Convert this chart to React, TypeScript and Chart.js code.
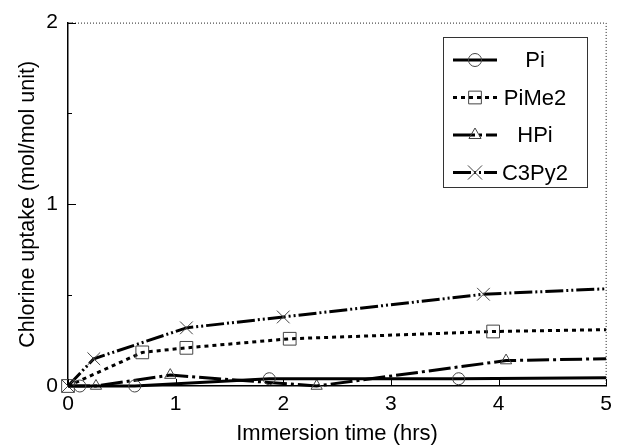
import React, { useEffect, useRef } from "react";
import { Chart, registerables } from "chart.js";

Chart.register(...registerables);

// ---- data ----
const seriesLabels = ["Pi", "PiMe2", "HPi", "C3Py2"];

const piX = [0, 0.11, 0.62, 1.87, 3.63, 5];
const piY = [0, 0, 0, 0.04, 0.04, 0.045];

const piMe2X = [0, 0.69, 1.1, 2.06, 3.95, 5];
const piMe2Y = [0, 0.185, 0.21, 0.26, 0.3, 0.31];

const hpiX = [0, 0.26, 0.95, 2.31, 4.07, 5];
const hpiY = [0, 0, 0.06, 0, 0.14, 0.15];

const c3X = [0, 0.24, 1.1, 2.0, 3.86, 5];
const c3Y = [0, 0.15, 0.32, 0.38, 0.505, 0.535];

const xMajorTicks = [0, 1, 2, 3, 4, 5];
const yMajorTicks = [0, 1, 2];
const yMinorTicks = [0.5, 1.5];

const xTitle = "Immersion time (hrs)";
const yTitle = "Chlorine uptake (mol/mol unit)";

const FONT = "'Liberation Sans', Arial, Helvetica, sans-serif";

const toPoints = (xs: number[], ys: number[]) => xs.map((x, i) => ({ x, y: ys[i] }));

function drawMarker(ctx: CanvasRenderingContext2D, style: string, x: number, y: number, r: number) {
  ctx.beginPath();
  if (style === "circle") {
    ctx.arc(x, y, r, 0, Math.PI * 2);
  } else if (style === "rect") {
    const s = r * Math.SQRT1_2;
    ctx.rect(x - s, y - s, 2 * s, 2 * s);
  } else if (style === "triangle") {
    const rad = -Math.PI / 2;
    for (let k = 0; k < 3; k++) {
      const a = rad + (k * 2 * Math.PI) / 3;
      const px = x + Math.cos(a) * r;
      const py = y + Math.sin(a) * r;
      if (k === 0) ctx.moveTo(px, py);
      else ctx.lineTo(px, py);
    }
    ctx.closePath();
  } else if (style === "crossRot") {
    const s = r * Math.SQRT1_2;
    ctx.moveTo(x - s, y - s);
    ctx.lineTo(x + s, y + s);
    ctx.moveTo(x - s, y + s);
    ctx.lineTo(x + s, y - s);
  }
  ctx.stroke();
}

const framePlugin = {
  id: "frameAndTicks",
  afterDraw(chart: any) {
    const ctx: CanvasRenderingContext2D = chart.ctx;
    const { left, right, top, bottom } = chart.chartArea;
    const xs = chart.scales.x;
    const ys = chart.scales.y;
    ctx.save();
    // dotted top and right frame
    ctx.strokeStyle = "#222";
    ctx.lineWidth = 1;
    ctx.setLineDash([1, 2]);
    ctx.beginPath();
    ctx.moveTo(left + 4, top + 0.5);
    ctx.lineTo(right, top + 0.5);
    ctx.lineTo(right, bottom);
    ctx.stroke();
    ctx.setLineDash([]);
    ctx.beginPath();
    ctx.moveTo(left, top + 0.5);
    ctx.lineTo(left + 5, top + 0.5);
    ctx.stroke();
    // inward ticks
    ctx.strokeStyle = "#000";
    ctx.lineWidth = 1;
    ctx.beginPath();
    xMajorTicks.forEach((v) => {
      const px = Math.round(xs.getPixelForValue(v)) + 0.5;
      ctx.moveTo(px, bottom);
      ctx.lineTo(px, bottom - 7);
    });
    yMajorTicks.forEach((v) => {
      const py = Math.round(ys.getPixelForValue(v)) + 0.5;
      ctx.moveTo(left, py);
      ctx.lineTo(left + 8, py);
    });
    yMinorTicks.forEach((v) => {
      const py = Math.round(ys.getPixelForValue(v)) + 0.5;
      ctx.moveTo(left, py);
      ctx.lineTo(left + 4, py);
    });
    ctx.stroke();

    // legend box
    const bx = 443.5, by = 37.5, bw = 144, bh = 150;
    ctx.fillStyle = "#fff";
    ctx.fillRect(bx, by, bw, bh);
    ctx.strokeStyle = "#333";
    ctx.lineWidth = 1;
    ctx.strokeRect(bx, by, bw, bh);
    chart.data.datasets.forEach((ds: any, i: number) => {
      const cy = 60 + i * 37.5;
      ctx.strokeStyle = "#000";
      ctx.lineWidth = 3;
      ctx.setLineDash(ds.borderDash || []);
      ctx.beginPath();
      ctx.moveTo(453, cy);
      ctx.lineTo(497, cy);
      ctx.stroke();
      ctx.setLineDash([]);
      ctx.strokeStyle = "#444";
      ctx.lineWidth = 1;
      drawMarker(ctx, ds.pointStyle, 475, cy, ds.legendRadius);
      ctx.fillStyle = "#000";
      ctx.font = `22px ${FONT}`;
      ctx.textAlign = "center";
      ctx.textBaseline = "middle";
      ctx.fillText(ds.label, 535, cy + 1);
    });
    ctx.restore();
  },
};

export default function App() {
  const ref = useRef<HTMLCanvasElement | null>(null);

  useEffect(() => {
    if (!ref.current) return;
    const common = {
      borderColor: "#000",
      borderWidth: 3,
      tension: 0,
      fill: false,
      pointBorderColor: "#444",
      pointBackgroundColor: "rgba(0,0,0,0)",
      pointBorderWidth: 1,
      clip: false as any,
    };
    const chart = new Chart(ref.current, {
      type: "line",
      data: {
        datasets: [
          {
            ...common,
            label: seriesLabels[0],
            data: toPoints(piX, piY),
            borderDash: [],
            pointStyle: "circle",
            pointRadius: [0, 6, 6, 6, 6, 0],
            legendRadius: 6.5,
          } as any,
          {
            ...common,
            label: seriesLabels[1],
            data: toPoints(piMe2X, piMe2Y),
            borderDash: [4, 4],
            pointStyle: "rect",
            pointRadius: [9, 9, 9, 9, 9, 0],
            legendRadius: 9,
          } as any,
          {
            ...common,
            label: seriesLabels[2],
            data: toPoints(hpiX, hpiY),
            borderDash: [22, 4, 3, 4],
            pointStyle: "triangle",
            pointRadius: [0, 6.5, 6.5, 6.5, 6.5, 0],
            legendRadius: 7,
          } as any,
          {
            ...common,
            label: seriesLabels[3],
            data: toPoints(c3X, c3Y),
            borderDash: [18, 3, 2, 3, 2, 3],
            pointStyle: "crossRot",
            pointRadius: [9, 9, 9, 9, 9, 0],
            legendRadius: 10,
          } as any,
        ],
      },
      options: {
        animation: false,
        responsive: false,
        devicePixelRatio: 1,
        layout: { padding: { top: 19, right: 9, left: 0, bottom: 0 } },
        plugins: { legend: { display: false }, tooltip: { enabled: false } },
        scales: {
          x: {
            type: "linear",
            min: 0,
            max: 5,
            afterFit: (s: any) => {
              s.height = 59;
            },
            ticks: {
              stepSize: 1,
              color: "#000",
              font: { size: 21, family: FONT },
              padding: 6,
              maxRotation: 0,
            },
            grid: { display: false, drawTicks: false },
            border: { display: true, color: "#000", width: 1.5 },
            title: {
              display: true,
              text: xTitle,
              color: "#000",
              font: { size: 22, family: FONT, lineHeight: 1 },
              padding: { top: 0, bottom: 0 },
            },
          },
          y: {
            type: "linear",
            min: 0,
            max: 2,
            afterFit: (s: any) => {
              s.width = 68;
            },
            ticks: {
              stepSize: 1,
              color: "#000",
              font: { size: 21, family: FONT },
              padding: 10,
            },
            grid: { display: false, drawTicks: false },
            border: { display: true, color: "#000", width: 1.5 },
            title: {
              display: true,
              text: yTitle,
              color: "#000",
              font: { size: 21.5, family: FONT, lineHeight: 1 },
              padding: { top: 17, bottom: 0 },
            },
          },
        },
      } as any,
      plugins: [framePlugin],
    });
    return () => chart.destroy();
  }, []);

  return (
    <div style={{ position: "fixed", left: 0, top: 0, width: 618, height: 445, background: "#fff" }}>
      <canvas ref={ref} width={618} height={445} style={{ display: "block", width: 618, height: 445 }} />
    </div>
  );
}
